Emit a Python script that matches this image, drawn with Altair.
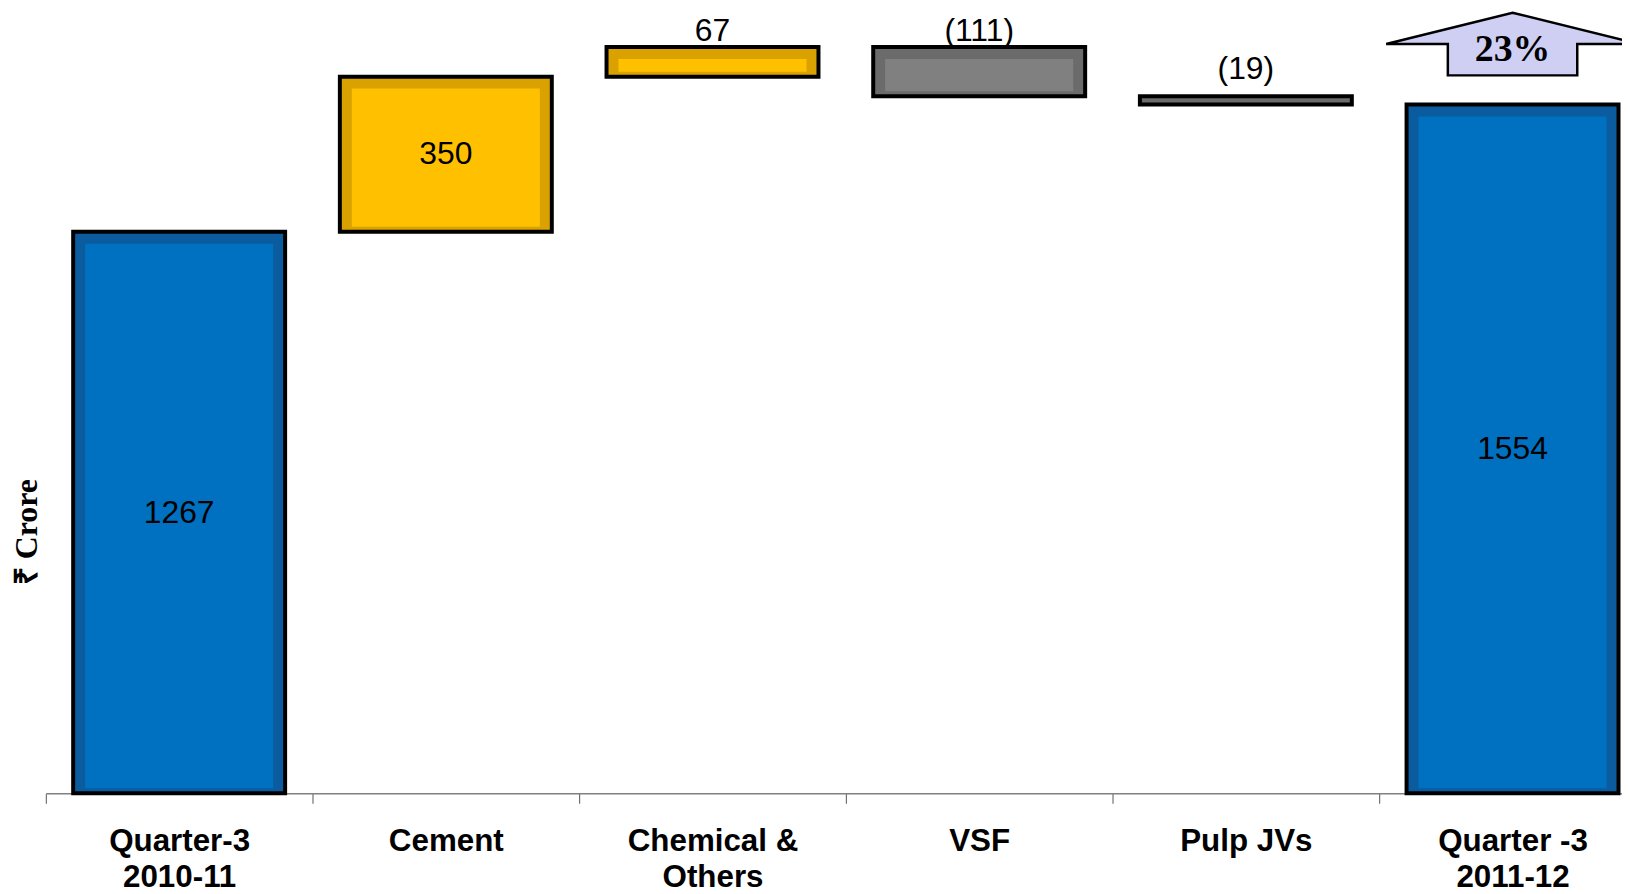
import altair as alt
import pandas as pd

categories = ["Quarter-3|2010-11", "Cement", "Chemical &|Others", "VSF", "Pulp JVs", "Quarter -3|2011-12"]
values = [1267, 350, 67, -111, -19, 1554]
kinds = ["total", "up", "up", "down", "down", "total"]

outer_colors = {"total": "#0A5C9E", "up": "#D9A200", "down": "#6B6B6B"}
inner_colors = {"total": "#0070C0", "up": "#FFC000", "down": "#808080"}

rows = []
running = 0
for c, v, k in zip(categories, values, kinds):
    if k == "total":
        lo, hi = 0, v
        running = v
        label = str(v)
    else:
        start = running
        running = running + v
        lo, hi = min(start, running), max(start, running)
        label = str(v) if v >= 0 else f"({abs(v)})"
    rows.append({"cat": c, "value": v, "kind": k, "lo": lo, "hi": hi,
                 "mid": (lo + hi) / 2, "label": label, "size": abs(v),
                 "outer": outer_colors[k], "inner": inner_colors[k]})
df = pd.DataFrame(rows)

growth = f"{round((values[-1] / values[0] - 1) * 100)}%"
arrow_df = pd.DataFrame({"cat": [categories[-1]], "txt": [growth]})

xenc = alt.X("cat:N", sort=categories,
             scale=alt.Scale(domain=categories, range=[0, 1608], paddingInner=0, paddingOuter=0),
             axis=alt.Axis(title=None, labelAngle=0, labelExpr="split(datum.label, '|')",
                           labelFont="Liberation Sans", labelFontWeight="bold",
                           labelFontSize=31.5, labelColor="black", labelLineHeight=36.5,
                           labelPadding=22, tickBand="extent", tickSize=10,
                           tickColor="#555555", domainColor="#808080", domainWidth=1.5,
                           grid=False))
yscale = alt.Scale(domain=[0, 1767], nice=False, zero=True)
yenc = alt.Y("hi:Q", scale=yscale,
             axis=alt.Axis(title="₹ Crore", labels=False, ticks=False, domain=False, grid=False,
                           titleFont="Liberation Serif", titleFontWeight="bold", titleFontSize=32,
                           titleColor="black", titleX=-19, titleY=524, titleAngle=-90,
                           titleAlign="center", titleBaseline="middle"))

xs = alt.X("cat:N", sort=categories)
base = alt.Chart(df)

outer = base.mark_bar(stroke="black", strokeWidth=4, size=213).encode(
    x=xenc, y=yenc, y2="lo:Q", fill=alt.Fill("outer:N", scale=None))

inner = base.transform_filter("datum.size >= 50").mark_bar(
    size=189, yOffset=12, y2Offset=-5).encode(
    x=xs, y=alt.Y("hi:Q"), y2="lo:Q", fill=alt.Fill("inner:N", scale=None))

txt_style = dict(font="Liberation Sans", fontSize=32, color="black")
inside = base.transform_filter("datum.size >= 200").mark_text(baseline="middle", **txt_style).encode(
    x=xs, y=alt.Y("mid:Q"), text="label:N")
above = base.transform_filter("datum.size < 200 && datum.size >= 50").mark_text(
    baseline="middle", dy=-16, **txt_style).encode(
    x=xs, y=alt.Y("hi:Q"), text="label:N")
above_small = base.transform_filter("datum.size < 50").mark_text(
    baseline="middle", dy=-27, **txt_style).encode(
    x=xs, y=alt.Y("hi:Q"), text="label:N")

arrow_path = "M0,-0.248 L1,0 L0.512,0 L0.512,0.248 L-0.512,0.248 L-0.512,0 L-1,0 Z"
arrow = alt.Chart(arrow_df).mark_point(
    shape=arrow_path, size=254 * 254, filled=True, fill="#CFCFF3", stroke="black",
    strokeWidth=2.5, opacity=1).encode(x=xs, y=alt.value(34))
arrow_txt = alt.Chart(arrow_df).mark_text(
    font="Liberation Serif", fontWeight="bold", fontSize=38, color="black", baseline="middle").encode(
    x=xs, y=alt.value(40), text="txt:N")

chart = alt.layer(outer, inner, inside, above, above_small, arrow, arrow_txt).properties(
    width=1584, height=787, autosize="none",
    padding={"left": 38, "top": 0, "right": 0, "bottom": 104},
    background="white").configure_view(stroke=None)

chart.save("out.html", embed_options={"renderer": "svg", "actions": False})
